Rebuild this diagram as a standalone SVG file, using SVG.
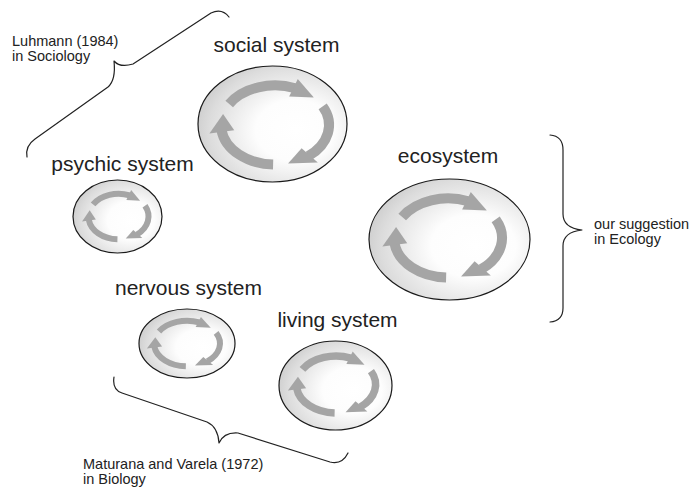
<svg xmlns="http://www.w3.org/2000/svg" xmlns:xlink="http://www.w3.org/1999/xlink" width="693" height="488" viewBox="0 0 693 488">
<style>
.node{fill:url(#shade);stroke:#1a1a1a;stroke-width:1.2}
.arc{fill:none;stroke:#a5a5a5;vector-effect:non-scaling-stroke}
.head{fill:#a5a5a5;stroke:none}
.big{stroke-width:10}
.mid{stroke-width:7.5}
.small{stroke-width:6}
.label{font-family:"Liberation Sans",Arial,sans-serif;font-size:21px;fill:#222;text-anchor:middle}
.note{font-family:"Liberation Sans",Arial,sans-serif;font-size:14.5px;fill:#222}
.brace{fill:none;stroke:#222;stroke-width:1.2;stroke-linejoin:round;stroke-linecap:round}
</style>
<defs>
<radialGradient id="shade" cx="0.63" cy="0.56" r="0.75" fx="0.66" fy="0.55">
<stop offset="0" stop-color="#ffffff"/>
<stop offset="0.35" stop-color="#fdfdfd"/>
<stop offset="0.75" stop-color="#dcdcdc"/>
<stop offset="1" stop-color="#c0c0c0"/>
</radialGradient>
<g id="cyc-arrow">
<path class="arc" d="M-50.88,-31.80 A60,60 0 0 1 22.48,-55.63"/>
<polygon class="head" points="25.31,-69.54 43.16,-41.68 15.73,-43.22"/>
</g>
<g id="cycle">
<use href="#cyc-arrow"/>
<use href="#cyc-arrow" transform="rotate(120)"/>
<use href="#cyc-arrow" transform="rotate(240)"/>
</g>
</defs>
<rect width="693" height="488" fill="#ffffff"/>

<g id="braces">
<path class="brace" d="M27,157 Q25,146 35,139 L108,87 Q116,80 114,61 Q120,68 133,64 L211,13 Q222,8 229,17"/>
<path class="brace" d="M550,135 Q563,136 563,150 L563,214 Q563,228 582,230 Q563,232 563,246 L563,308 Q563,321 550,322"/>
<path class="brace" d="M114,377 Q112,390 122,393 L207,422 Q218,427 219,443 Q224,432 238,433 L330,462 Q342,465 348,453"/>
</g>

<g id="social-system">
<ellipse class="node" cx="272.5" cy="124" rx="74.5" ry="58"/>
<use href="#cycle" class="big" transform="translate(275,125) scale(0.9,0.66)"/>
<text class="label" x="276.5" y="52">social system</text>
</g>

<g id="ecosystem">
<ellipse class="node" cx="449.5" cy="239.5" rx="80.5" ry="60.5"/>
<use href="#cycle" class="big" transform="translate(448,238) scale(0.9,0.66)"/>
<text class="label" x="448" y="163">ecosystem</text>
</g>

<g id="psychic-system">
<ellipse class="node" cx="117.5" cy="216.5" rx="44.5" ry="36.5"/>
<use href="#cycle" class="small" transform="translate(118.5,216.5) scale(0.5,0.38)"/>
<text class="label" x="122.5" y="171">psychic system</text>
</g>

<g id="nervous-system">
<ellipse class="node" cx="187" cy="343.5" rx="48" ry="34.5"/>
<use href="#cycle" class="small" transform="translate(187,343.5) scale(0.55,0.38)"/>
<text class="label" x="188.5" y="295">nervous system</text>
</g>

<g id="living-system">
<ellipse class="node" cx="335.5" cy="385.5" rx="56.5" ry="44.5"/>
<use href="#cycle" class="mid" transform="translate(336,384.5) scale(0.66,0.475)"/>
<text class="label" x="337.5" y="327">living system</text>
</g>

<g id="annotations">
<text class="note" x="12" y="46">Luhmann (1984)</text>
<text class="note" x="12" y="61">in Sociology</text>
<text class="note" x="594" y="229">our suggestion</text>
<text class="note" x="594" y="244">in Ecology</text>
<text class="note" x="83" y="469">Maturana and Varela (1972)</text>
<text class="note" x="83" y="484">in Biology</text>
</g>
</svg>
